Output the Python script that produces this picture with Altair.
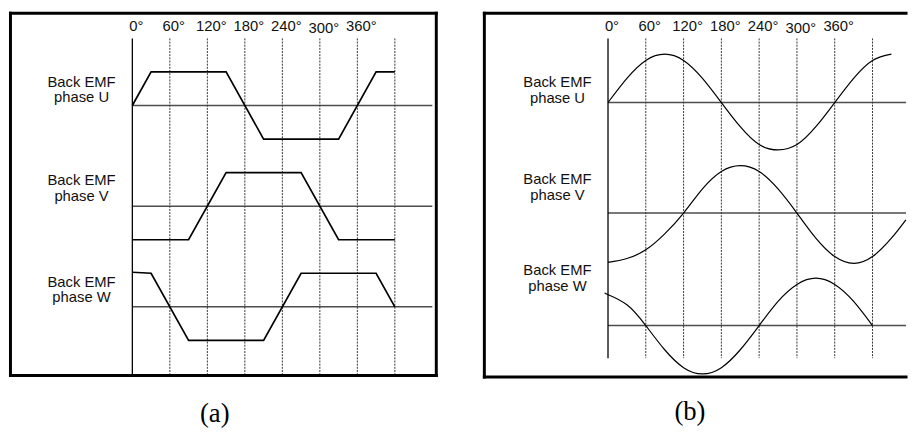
import altair as alt
import pandas as pd

# ---------------- data ----------------
degree_ticks = [0, 60, 120, 180, 240, 300, 360]
degree_text = ["0°", "60°", "120°", "180°", "240°", "300°", "360°"]
dashed_angles = [60, 120, 180, 240, 300, 360, 420]
phase_names = ["U", "V", "W"]
row_labels = ["Back EMF\nphase U", "Back EMF\nphase V", "Back EMF\nphase W"]

# (a) trapezoidal back EMF: breakpoints (deg) and normalised values
trap_U_deg = [0, 30, 150, 210, 330, 390, 420]
trap_U_val = [0, 1, 1, -1, -1, 1, 1]
trap_V_deg = [0, 90, 150, 270, 330, 420]
trap_V_val = [-1, -1, 1, 1, -1, -1]
trap_W_deg = [0, 30, 90, 210, 270, 390, 420]
trap_W_val = [1.03, 1, -1, -1, 1, 1, 0]

# (b) sinusoidal back EMF, read every 30 deg
sin_U_deg = [0, 30, 60, 90, 120, 150, 180, 210, 240, 270, 300, 330, 360, 390, 420, 450]
sin_U_val = [0, 0.5, 0.87, 1, 0.87, 0.5, 0, -0.5, -0.87, -0.98, -0.87, -0.5, 0, 0.5, 0.87, 1]
sin_V_deg = [0, 30, 60, 90, 120, 150, 180, 210, 240, 270, 300, 330, 360, 390, 420, 450, 473]
sin_V_val = [-1.02, -0.94, -0.76, -0.43, 0, 0.5, 0.86, 0.98, 0.86, 0.5, 0, -0.52, -0.9, -1.04, -0.9, -0.52, -0.14]
sin_W_deg = [-4, 0, 30, 60, 90, 120, 150, 180, 210, 240, 270, 300, 330, 360, 390, 420]
sin_W_val = [0.67, 0.64, 0.43, 0, -0.5, -0.87, -1.0, -0.87, -0.5, 0, 0.5, 0.85, 0.98, 0.85, 0.5, 0]

# ---------------- layout (page pixels) ----------------
TOP = 8
H = 417
SANS = "Liberation Sans"
SERIF = "Liberation Serif"
label_drop = [0, 0, 0, 0, 0, 2, 0]

panel_a = dict(
    left=8, width=440, zero_px=133, px_per_deg=38.0 / 60, base_px=[103, 205, 307], amp=34,
    frame=[(9.5, 9.5, 441, 9.5), (441, 9.5, 441, 376.5), (441, 376.5, 9.5, 376.5), (9.5, 376.5, 9.5, 9.5)],
    vline=(35, 375), base_end=437, tick_base=28,
    label_cx=81.5, label_base=[84, 184, 287], line_h=15.5,
    caption="(a)", cap_xy=(216.5, 416),
    curves=[(trap_U_deg, trap_U_val), (trap_V_deg, trap_V_val), (trap_W_deg, trap_W_val)],
    interp="linear", curve_w=1.7,
)
panel_b = dict(
    left=448, width=469, zero_px=615, px_per_deg=38.29 / 60, base_px=[100, 212, 326], amp=49,
    frame=[(489.7, 9.5, 917, 9.5), (489.7, 378, 917, 378), (489.7, 9.5, 489.7, 378)],
    vline=(35, 359), base_end=917, tick_base=28,
    label_cx=563.8, label_base=[84, 183, 275], line_h=16,
    caption="(b)", cap_xy=(698, 414),
    curves=[(sin_U_deg, sin_U_val), (sin_V_deg, sin_V_val), (sin_W_deg, sin_W_val)],
    interp="natural", curve_w=1.2,
)


def build(cfg):
    k = cfg["px_per_deg"]

    def X(px):
        return (px - cfg["zero_px"]) / k

    def Y(py):
        return (cfg["base_px"][0] - py) / cfg["amp"]

    sx = alt.Scale(domain=[X(cfg["left"]), X(cfg["left"] + cfg["width"])], nice=False, zero=False)
    sy = alt.Scale(domain=[Y(TOP + H), Y(TOP)], nice=False, zero=False)
    offsets = [Y(b) for b in cfg["base_px"]]

    def xe(f):
        return alt.X(f, type="quantitative", scale=sx, axis=None)

    def ye(f):
        return alt.Y(f, type="quantitative", scale=sy, axis=None)

    frame_df = pd.DataFrame(
        [dict(x=X(a), y=Y(b), x2=X(c), y2=Y(d)) for a, b, c, d in cfg["frame"]]
    )
    frame = alt.Chart(frame_df).mark_rule(color="black", strokeWidth=3, strokeCap="square").encode(
        x=xe("x"), y=ye("y"), x2="x2", y2="y2"
    )

    base_df = pd.DataFrame({"x": [0.0] * 3, "x2": [X(cfg["base_end"])] * 3, "y": offsets})
    baselines = alt.Chart(base_df).mark_rule(color="#4d4d4d", strokeWidth=1.6).encode(
        x=xe("x"), x2="x2", y=ye("y")
    )

    v0, v1 = cfg["vline"]
    axis_df = pd.DataFrame({"x": [0.0], "y": [Y(v0)], "y2": [Y(v1)]})
    axis_line = alt.Chart(axis_df).mark_rule(color="black", strokeWidth=1.3).encode(
        x=xe("x"), y=ye("y"), y2="y2"
    )

    dash_df = pd.DataFrame({"x": dashed_angles, "y": [Y(v0)] * len(dashed_angles), "y2": [Y(v1)] * len(dashed_angles)})
    dashes = alt.Chart(dash_df).mark_rule(color="#333333", strokeWidth=1, strokeDash=[2, 1.2]).encode(
        x=xe("x"), y=ye("y"), y2="y2"
    )

    rows = []
    for name, off, (degs, vals) in zip(phase_names, offsets, cfg["curves"]):
        for i, (d, v) in enumerate(zip(degs, vals)):
            rows.append(dict(phase=name, i=i, deg=d, y=off + v))
    curve_df = pd.DataFrame(rows)
    curves = alt.Chart(curve_df).mark_line(
        color="black", strokeWidth=cfg["curve_w"], interpolate=cfg["interp"]
    ).encode(x=xe("deg"), y=ye("y"), detail="phase:N", order="i:Q")

    tick_df = pd.DataFrame({
        "x": degree_ticks,
        "y": [Y(cfg["tick_base"] + d) for d in label_drop],
        "t": degree_text,
    })
    ticks = alt.Chart(tick_df).mark_text(
        font=SANS, fontSize=15, align="center", baseline="alphabetic", dx=4, color="#111111"
    ).encode(x=xe("x"), y=ye("y"), text="t:N")

    lab_df = pd.DataFrame({
        "x": [X(cfg["label_cx"])] * 3,
        "y": [Y(b) for b in cfg["label_base"]],
        "t": row_labels,
    })
    labels = alt.Chart(lab_df).mark_text(
        font=SANS, fontSize=15, align="center", baseline="alphabetic", lineBreak="\n",
        lineHeight=cfg["line_h"], color="#111111"
    ).encode(x=xe("x"), y=ye("y"), text="t:N")

    cx, cy = cfg["cap_xy"]
    cap_df = pd.DataFrame({"x": [X(cx)], "y": [Y(cy)], "t": [cfg["caption"]]})
    caption = alt.Chart(cap_df).mark_text(
        font=SERIF, fontSize=27, align="center", baseline="middle", color="black"
    ).encode(x=xe("x"), y=ye("y"), text="t:N")

    return alt.layer(frame, baselines, axis_line, dashes, curves, ticks, labels, caption).properties(
        width=cfg["width"], height=H
    )


chart = alt.hconcat(build(panel_a), build(panel_b), spacing=0, bounds="flush").properties(
    padding=0
).configure_view(stroke=None)

chart.save("out.html", embed_options={"renderer": "svg", "actions": False})
